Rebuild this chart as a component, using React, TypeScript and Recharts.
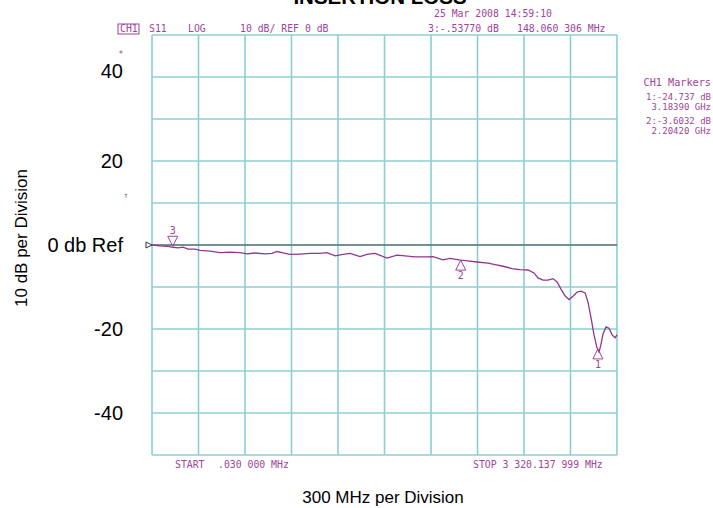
import React from 'react';
import {
  LineChart,
  Line,
  XAxis,
  YAxis,
  CartesianGrid,
  ReferenceLine,
  ReferenceDot,
} from 'recharts';

// frequency (MHz) and S-parameter trace (dB)
const freqMHz = [
  0, 57, 114, 150, 186, 221, 257, 307, 343, 414, 486, 557, 628, 678, 735, 807, 857, 892,
  935, 985, 1057, 1128, 1199, 1249, 1307, 1364, 1414, 1485, 1542, 1592, 1678, 1749, 1806,
  1878, 1963, 2006, 2078, 2128, 2204, 2256, 2320, 2399, 2449, 2499, 2570, 2627, 2685, 2727,
  2756, 2792, 2827, 2863, 2892, 2920, 2949, 2977, 3006, 3035, 3063, 3092, 3113, 3135, 3156,
  3177, 3192, 3206, 3220, 3242, 3263, 3285, 3306, 3320,
];
const traceDb = [
  0, -0.2, -0.35, -0.54, -0.7, -0.5, -1.0, -1.0, -1.3, -1.45, -1.8, -1.7, -1.8, -2.1, -1.9,
  -2.1, -2.0, -1.55, -1.9, -2.25, -2.15, -2.0, -2.0, -1.8, -2.6, -2.25, -2.0, -2.75, -2.15,
  -2.0, -3.1, -2.4, -2.6, -2.85, -2.85, -2.75, -3.55, -3.2, -3.6, -3.8, -4.05, -4.3, -4.65,
  -5.0, -5.6, -5.85, -5.95, -6.65, -7.85, -8.35, -8.35, -8.0, -8.8, -10.5, -12.1, -13.0,
  -12.2, -11.2, -11.0, -11.4, -13.6, -17.4, -21.4, -24.5, -25.5, -23.6, -21.2, -19.5, -19.8,
  -21.4, -22.1, -21.4,
];

const markerIds = ['1', '2', '3'];
const markerFreq = [3183.9, 2204.2, 148.06];
const markerDb = [-24.737, -3.6032, -0.5377];

const xTicks = [0, 332, 664, 996, 1328, 1660, 1992, 2324, 2656, 2988, 3320];
const yTicks = [-50, -40, -30, -20, -10, 0, 10, 20, 30, 40, 50];
const yLabeled = [40, 20, 0, -20, -40];

const data = freqMHz.map((f, i) => ({ f, db: traceDb[i] }));

const PURPLE = '#9e4598';
const MONO = "'DejaVu Sans Mono', monospace";
const SANS = "Arial, 'Liberation Sans', sans-serif";

const YTick = (props: any) => {
  const { x, y, payload } = props;
  const v = payload.value;
  if (!yLabeled.includes(v)) return null;
  return (
    <text
      x={x}
      y={y + (v === 40 ? -6 : 0)}
      dy={7}
      textAnchor="end"
      fontFamily={SANS}
      fontSize={20}
      fill="#000"
    >
      {v === 0 ? '0 db Ref' : v}
    </text>
  );
};

const NoTick = () => <g />;

const markerShape = (id: string) => (props: any) => {
  const { cx, cy } = props;
  if (id === '3') {
    return (
      <g>
        <polygon
          points={`${cx - 5},${cy - 11} ${cx + 5},${cy - 11} ${cx},${cy - 1}`}
          fill="none"
          stroke={PURPLE}
        />
        <text x={cx} y={cy - 13} textAnchor="middle" fontFamily={MONO} fontSize={10} fill={PURPLE}>
          {id}
        </text>
      </g>
    );
  }
  return (
    <g>
      <polygon
        points={`${cx},${cy} ${cx - 5},${cy + 10} ${cx + 5},${cy + 10}`}
        fill="none"
        stroke={PURPLE}
      />
      <text x={cx} y={cy + 19} textAnchor="middle" fontFamily={MONO} fontSize={10} fill={PURPLE}>
        {id}
      </text>
    </g>
  );
};

const startShape = (props: any) => {
  const { cx, cy } = props;
  return (
    <polygon
      points={`${cx - 6},${cy - 3} ${cx - 6},${cy + 3} ${cx},${cy}`}
      fill="none"
      stroke="#333"
    />
  );
};

const App: React.FC = () => (
  <div style={{ position: 'absolute', left: 0, top: 0, width: 713, height: 508, background: '#fff' }}>
    <LineChart
      width={713}
      height={508}
      data={data}
      margin={{ top: 35, right: 96, bottom: 52, left: 0 }}
    >
      <CartesianGrid stroke="#8ccfd1" strokeWidth={1.6} />
      <XAxis
        dataKey="f"
        type="number"
        domain={[0, 3320]}
        ticks={xTicks}
        tick={<NoTick />}
        tickLine={false}
        axisLine={false}
        interval={0}
        height={1}
      />
      <YAxis
        type="number"
        domain={[-50, 50]}
        ticks={yTicks}
        width={152}
        tick={<YTick />}
        tickLine={false}
        axisLine={false}
        tickSize={6}
        tickMargin={23}
        interval={0}
      />
      <ReferenceLine y={0} stroke="#444" strokeWidth={1.2} />
      <Line
        type="linear"
        dataKey="db"
        stroke="#92368d"
        strokeWidth={1.3}
        dot={false}
        isAnimationActive={false}
      />
      <ReferenceDot x={0} y={0} r={3} shape={startShape} />
      {markerIds.map((id, i) => (
        <ReferenceDot key={id} x={markerFreq[i]} y={markerDb[i]} r={5} shape={markerShape(id)} />
      ))}
    </LineChart>
    <svg
      width={713}
      height={508}
      style={{ position: 'absolute', left: 0, top: 0, pointerEvents: 'none' }}
    >
      <text x={380} y={4} textAnchor="middle" fontFamily={SANS} fontWeight="bold" fontSize={20.5}>
        INSERTION LOSS
      </text>
      <g fontFamily={MONO} fontSize={9.8} fill={PURPLE} style={{ whiteSpace: 'pre' }}>
        <text x={434} y={17}>25 Mar 2008  14:59:10</text>
        <rect x={118} y={24} width={21} height={10} fill="none" stroke={PURPLE} strokeWidth={1} />
        <text x={120} y={32}>CH1</text>
        <text x={149} y={32}>S11</text>
        <text x={188} y={32}>LOG</text>
        <text x={240} y={32}>10 dB/ REF 0 dB</text>
        <text x={428} y={32}>3:-.53770 dB</text>
        <text x={517} y={32}>148.060 306 MHz</text>
        <text x={175} y={467.5}>START</text>
        <text x={218} y={467.5}>.030 000 MHz</text>
        <text x={473} y={467.5}>STOP 3 320.137 999 MHz</text>
      </g>
      <g fontFamily={MONO} fill={PURPLE} textAnchor="end" style={{ whiteSpace: 'pre' }}>
        <text x={711} y={86} fontSize={10.2}>CH1 Markers</text>
        <text x={711} y={100} fontSize={9}>1:-24.737 dB</text>
        <text x={711} y={110} fontSize={9}>3.18390 GHz</text>
        <text x={711} y={124} fontSize={9}>2:-3.6032 dB</text>
        <text x={711} y={134} fontSize={9}>2.20420 GHz</text>
      </g>
      <text x={126} y={198} textAnchor="middle" fontFamily={MONO} fontSize={8} fill={PURPLE}>
        ↑
      </text>
      <text x={121} y={57} textAnchor="middle" fontFamily={MONO} fontSize={8} fill={PURPLE}>
        *
      </text>
      <text
        transform="translate(27, 238) rotate(-90)"
        textAnchor="middle"
        fontFamily={SANS}
        fontSize={17}
        fill="#000"
      >
        10 dB per Division
      </text>
      <text x={383} y={503} textAnchor="middle" fontFamily={SANS} fontSize={17} fill="#000">
        300 MHz per Division
      </text>
    </svg>
  </div>
);

export default App;
